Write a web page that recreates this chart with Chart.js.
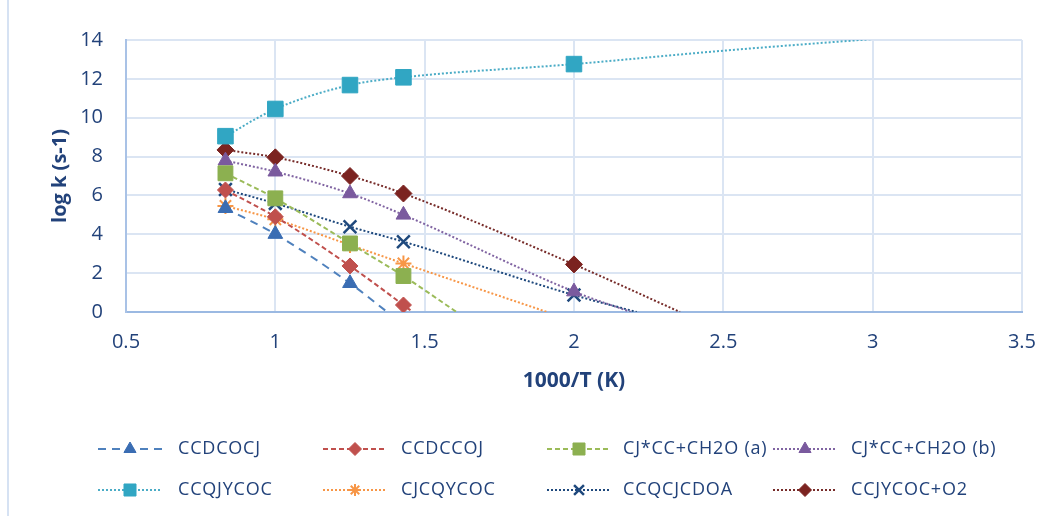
<!DOCTYPE html>
<html>
<head>
<meta charset="utf-8">
<script src="https://cdn.jsdelivr.net/npm/chart.js@4.4.0/dist/chart.umd.min.js"></script>
<style>
  html, body { margin: 0; padding: 0; background: #fff; }
  #wrap { position: relative; width: 1054px; height: 516px; }
</style>
</head>
<body>
<div id="wrap"><canvas id="chart" width="1054" height="516"></canvas></div>
<script>
// 1000/T values of the computed points
const xInv = [0.833, 1.0, 1.25, 1.429, 2.0];

// log k values per reaction (null = no point)
const ccdcocj   = [5.34, 4.01, 1.48, null, null];
const ccdccoj   = [6.28, 4.90, 2.37, 0.36, null];
const cjccA     = [7.14, 5.85, 3.53, 1.85, null];
const cjccB     = [7.79, 7.22, 6.10, 5.00, 1.05];
const ccqjycoc  = [9.05, 10.45, 11.68, 12.08, 12.76];
const cjcqycoc  = [5.46, 4.77, 3.45, 2.50, null];
const ccqcjcdoa = [6.31, 5.59, 4.39, 3.62, 0.87];
const ccjycocO2 = [8.34, 7.96, 7.00, 6.10, 2.45];

// where each trendline continues to
const ccdcocjEnd   = [[1.375, 0]];
const ccdccojEnd   = [[1.46, 0]];
const cjccAEnd     = [[1.607, 0]];
const cjccBEnd     = [[2.19, 0]];
const ccqjycocEnd  = [[2.5, 13.45], [3.0, 14.05]];
const cjcqycocEnd  = [[1.91, 0]];
const ccqcjcdoaEnd = [[2.21, 0]];
const ccjycocO2End = [[2.355, 0]];

const names = ["CCDCOCJ", "CCDCCOJ", "CJ*CC+CH2O (a)", "CJ*CC+CH2O (b)",
               "CCQJYCOC", "CJCQYCOC", "CCQCJCDOA", "CCJYCOC+O2"];

const textColor = "#22427a";
const gridColor = "#dbe5f3";
const axisColor = "#9bb9e2";

// build the points: marker points + trendline extension
function buildPoints(ys, ends) {
  const pts = [];
  ys.forEach((y, i) => { if (y !== null) pts.push({ x: xInv[i], y: y, m: true }); });
  ends.forEach(e => pts.push({ x: e[0], y: e[1], m: false }));
  return pts;
}

function makeSet(label, ys, ends, line, dash, style, fill, r, bw) {
  const pts = buildPoints(ys, ends);
  return {
    label: label,
    data: pts,
    showLine: true,
    borderColor: line,
    borderWidth: 2,
    borderDash: dash,
    cubicInterpolationMode: "monotone",
    pointStyle: style,
    pointBackgroundColor: fill,
    pointBorderColor: fill,
    pointBorderWidth: bw,
    pointRadius: pts.map(p => p.m ? r : 0),
    pointHoverRadius: pts.map(p => p.m ? r : 0)
  };
}

const dotted = [2, 2];
const datasets = [
  makeSet(names[0], ccdcocj, ccdcocjEnd, "#4f81bd", [8, 6], "triangle", "#3a6db3", 8.5, 1),
  makeSet(names[1], ccdccoj, ccdccojEnd, "#c0504d", [5, 3], "rectRot", "#c0504d", 8, 1),
  makeSet(names[2], cjccA, cjccAEnd, "#9bbb59", [5, 3], "rect", "#8cb050", 10.5, 1),
  makeSet(names[3], cjccB, cjccBEnd, "#8064a2", dotted, "triangle", "#7a5a9e", 8.5, 1),
  makeSet(names[4], ccqjycoc, ccqjycocEnd, "#4bacc6", dotted, "rect", "#31a6c3", 11, 1),
  makeSet(names[5], cjcqycoc, cjcqycocEnd, "#f79646", dotted, "star", "#f79646", 8, 2),
  makeSet(names[6], ccqcjcdoa, ccqcjcdoaEnd, "#1f497d", dotted, "crossRot", "#1f497d", 9, 2.5),
  makeSet(names[7], ccjycocO2, ccjycocO2End, "#772c2a", dotted, "rectRot", "#7b2320", 8.5, 1)
];
datasets.forEach(d => { d.clip = { left: 0, top: 0, right: 0, bottom: 0 }; });

// Excel-like legend: 4 columns, 2 rows, line + marker + label
const legendLineX = [98, 323, 547, 773];
const legendTextX = [178, 401, 623, 851];
const legendRowY = [449, 490];
const legendRadius = { triangle: 7, rect: 8.5, rectRot: 6.5, star: 6, crossRot: 7 };

const excelLegend = {
  id: "excelLegend",
  afterDraw(chart) {
    const ctx = chart.ctx;
    ctx.save();
    // chart frame line on the left
    ctx.strokeStyle = "#d6e2f3";
    ctx.lineWidth = 2;
    ctx.beginPath();
    ctx.moveTo(8, 0);
    ctx.lineTo(8, 516);
    ctx.stroke();

    ctx.font = '18px "Open Sans"';
    ctx.letterSpacing = "0.8px";
    ctx.textBaseline = "middle";
    chart.data.datasets.forEach((ds, i) => {
      const col = i % 4, row = Math.floor(i / 4);
      const x0 = legendLineX[col], y = legendRowY[row];
      ctx.setLineDash(ds.borderDash);
      ctx.strokeStyle = ds.borderColor;
      ctx.lineWidth = ds.borderWidth;
      ctx.beginPath();
      ctx.moveTo(x0, y);
      ctx.lineTo(x0 + 64, y);
      ctx.stroke();
      ctx.setLineDash([]);
      ctx.fillStyle = ds.pointBackgroundColor;
      ctx.strokeStyle = ds.pointBorderColor;
      ctx.lineWidth = ds.pointBorderWidth;
      Chart.helpers.drawPoint(ctx, {
        pointStyle: ds.pointStyle,
        radius: legendRadius[ds.pointStyle],
        rotation: 0,
        borderWidth: ds.pointBorderWidth
      }, x0 + 32, y);
      ctx.fillStyle = textColor;
      ctx.fillText(ds.label, legendTextX[col], y);
    });
    ctx.restore();
  }
};

new Chart(document.getElementById("chart"), {
  type: "scatter",
  data: { datasets: datasets },
  plugins: [excelLegend],
  options: {
    responsive: false,
    animation: false,
    layout: { padding: { left: 0, top: 40, right: 32, bottom: 114 } },
    plugins: {
      legend: { display: false },
      tooltip: { enabled: false }
    },
    scales: {
      x: {
        type: "linear",
        min: 0.5,
        max: 3.5,
        afterFit: s => { s.height = 90; },
        ticks: {
          stepSize: 0.5,
          padding: 18,
          color: textColor,
          font: { family: "Open Sans", size: 20 },
          callback: v => String(v)
        },
        grid: { color: gridColor, lineWidth: 2, drawTicks: false },
        border: { color: axisColor, width: 2 },
        title: {
          display: true,
          text: "1000/T (K)",
          color: textColor,
          font: { family: "Open Sans", size: 21, weight: "bold" },
          padding: { top: 0, bottom: 8 }
        }
      },
      y: {
        min: 0,
        max: 14,
        afterFit: s => { s.width = 126; },
        ticks: {
          stepSize: 2,
          padding: 23,
          color: textColor,
          font: { family: "Open Sans", size: 20 }
        },
        grid: { color: gridColor, lineWidth: 2, drawTicks: false },
        border: { color: "#a9c2e6", width: 2 },
        title: {
          display: true,
          text: "log k (s-1)",
          color: textColor,
          font: { family: "Open Sans", size: 20, weight: "bold" },
          padding: { top: 48, bottom: 0 }
        }
      }
    }
  }
});
</script>
</body>
</html>
